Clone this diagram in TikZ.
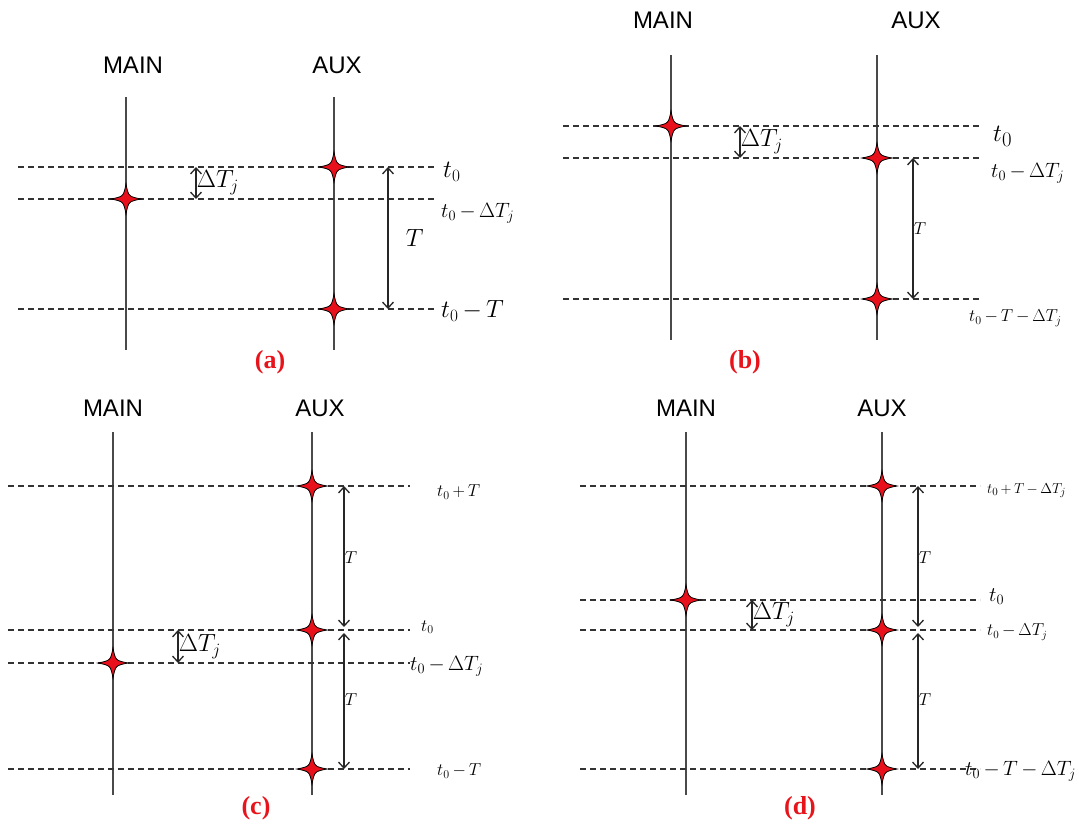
\documentclass[tikz,border=0pt]{standalone}
\usepackage{fontspec}
\setsansfont{Liberation Sans}
\newfontfamily\capfont{Liberation Serif}
\usetikzlibrary{arrows.meta}
\definecolor{sparkred}{HTML}{E8101A}
\definecolor{axisgray}{HTML}{4A4A4A}
\definecolor{capred}{HTML}{E8141C}
\newcommand{\fs}[1]{\fontsize{#1}{#1}\selectfont}

\begin{document}
\begin{tikzpicture}[
    x=1pt, y=-1pt,
    axis/.style={draw=axisgray, line width=1.3pt},
    level/.style={draw=black!80, line width=1.2pt, dash pattern=on 6pt off 4pt},
    span/.style={draw=black!85, line width=1.3pt, {Straight Barb[length=6pt,width=11pt]}-{Straight Barb[length=6pt,width=11pt]}},
    chan/.style={font=\sffamily\fs{24}},
    panel/.style={font=\capfont\bfseries\fs{26}, text=capred},
    tick/.style={anchor=west, inner sep=1pt, execute at begin node={\medmuskip=3mu}},
    spark/.pic={
      \path[fill=sparkred, draw=black, line width=0.8pt]
        (0,-15) .. controls (2.5,-2.5) .. (15,0) .. controls (2.5,2.5) .. (0,15)
        .. controls (-2.5,2.5) .. (-15,0) .. controls (-2.5,-2.5) .. (0,-15) -- cycle;
    }
]
  \useasboundingbox (0,0) rectangle (1079,825);

  % (a) upper left
  \node[chan] (mainA) at (133,65) {MAIN};
  \node[chan] (auxA) at (337,65) {AUX};
  \draw[axis] (126,97) -- (126,350);
  \draw[axis] (334,97) -- (334,350);
  \draw[level] (18,167) -- (435,167);
  \draw[level] (18,199) -- (435,199);
  \draw[level] (18,309) -- (435,309);
  \pic at (334,167) {spark};
  \pic at (126,199) {spark};
  \pic at (334,309) {spark};
  \coordinate (aJtop) at (196,167);
  \coordinate (aJbot) at (196,199);
  \draw[span] (aJtop) -- node[right, xshift=-3pt, font=\fs{24}] {$\Delta T_j$} (aJbot);
  \coordinate (aTtop) at (388,167);
  \coordinate (aTbot) at (388,309);
  \draw[span] (aTtop) -- node[right, xshift=14pt, font=\fs{27}] {$T$} (aTbot);
  \node[tick, font=\fs{24}] (aL1) at (442,172) {$t_0$};
  \node[tick, font=\fs{22}] (aL2) at (440,213) {$t_0-\Delta T_j$};
  \node[tick, font=\fs{24}] (aL3) at (440,311) {$t_0-T$};
  \node[panel] (capA) at (270,362) {(a)};

  % (b) upper right
  \node[chan] (mainB) at (663,20) {MAIN};
  \node[chan] (auxB) at (916,20) {AUX};
  \draw[axis] (671,55) -- (671,340);
  \draw[axis] (877,55) -- (877,340);
  \draw[level] (563,126) -- (980,126);
  \draw[level] (563,158) -- (980,158);
  \draw[level] (563,299) -- (980,299);
  \pic at (671,126) {spark};
  \pic at (877,158) {spark};
  \pic at (877,299) {spark};
  \coordinate (bJtop) at (740,126);
  \coordinate (bJbot) at (740,158);
  \draw[span] (bJtop) -- node[right, xshift=-3pt, font=\fs{24}] {$\Delta T_j$} (bJbot);
  \coordinate (bTtop) at (913,158);
  \coordinate (bTbot) at (913,299);
  \draw[span] (bTtop) -- node[right, xshift=-3pt, font=\fs{16}] {$T$} (bTbot);
  \node[tick, font=\fs{28}] (bL1) at (992,136) {$t_0$};
  \node[tick, font=\fs{20}] (bL2) at (990,173) {$t_0-\Delta T_j$};
  \node[tick, font=\fs{18}] (bL3) at (968,318) {$t_0-T-\Delta T_j$};
  \node[panel] (capB) at (745,362) {(b)};

  % (c) lower left
  \node[chan] (mainC) at (113,408) {MAIN};
  \node[chan] (auxC) at (320,408) {AUX};
  \draw[axis] (113,432) -- (113,795);
  \draw[axis] (312,432) -- (312,795);
  \draw[level] (8,486) -- (410,486);
  \draw[level] (8,630) -- (410,630);
  \draw[level] (8,663) -- (410,663);
  \draw[level] (8,769) -- (410,769);
  \pic at (312,486) {spark};
  \pic at (312,630) {spark};
  \pic at (113,663) {spark};
  \pic at (312,769) {spark};
  \coordinate (cJtop) at (178,630);
  \coordinate (cJbot) at (178,663);
  \draw[span] (cJtop) -- node[right, xshift=-3pt, font=\fs{24}] {$\Delta T_j$} (cJbot);
  \coordinate (cTtop) at (344,486);
  \coordinate (cTmid) at (344,630);
  \coordinate (cTbot) at (344,769);
  \draw[span, shorten >=3pt] (cTtop) -- node[right, xshift=-3pt, font=\fs{16}] {$T$} (cTmid);
  \draw[span, shorten <=3pt] (cTmid) -- node[right, xshift=-3pt, font=\fs{16}] {$T$} (cTbot);
  \node[tick, font=\fs{18}] (cL1) at (436,492) {$t_0+T$};
  \node[tick, font=\fs{18}] (cL2) at (420,627) {$t_0$};
  \node[tick, font=\fs{20}] (cL3) at (409,666) {$t_0-\Delta T_j$};
  \node[tick, font=\fs{18}] (cL4) at (436,771) {$t_0-T$};
  \node[panel] (capC) at (256,808) {(c)};

  % (d) lower right
  \node[chan] (mainD) at (686,408) {MAIN};
  \node[chan] (auxD) at (882,408) {AUX};
  \draw[axis] (686,432) -- (686,795);
  \draw[axis] (882,432) -- (882,795);
  \draw[level] (580,486) -- (980,486);
  \draw[level] (580,600) -- (980,600);
  \draw[level] (580,630) -- (980,630);
  \draw[level] (580,769) -- (980,769);
  \pic at (882,486) {spark};
  \pic at (686,600) {spark};
  \pic at (882,630) {spark};
  \pic at (882,769) {spark};
  \coordinate (dJtop) at (752,600);
  \coordinate (dJbot) at (752,630);
  \draw[span] (dJtop) -- node[right, xshift=-3pt, font=\fs{24}] {$\Delta T_j$} (dJbot);
  \coordinate (dTtop) at (918,486);
  \coordinate (dTmid) at (918,630);
  \coordinate (dTbot) at (918,769);
  \draw[span, shorten >=3pt] (dTtop) -- node[right, xshift=-3pt, font=\fs{16}] {$T$} (dTmid);
  \draw[span, shorten <=3pt] (dTmid) -- node[right, xshift=-3pt, font=\fs{16}] {$T$} (dTbot);
  \node[tick, font=\fs{15}] (dL1) at (986,491) {$t_0+T-\Delta T_j$};
  \node[tick, font=\fs{22}] (dL2) at (988,597) {$t_0$};
  \node[tick, font=\fs{16}] (dL3) at (986,632) {$t_0-\Delta T_j$};
  \node[tick, font=\fs{20}] (dL4) at (964,771) {$t_0-T-\Delta T_j$};
  \node[panel] (capD) at (800,808) {(d)};

\end{tikzpicture}
\end{document}
